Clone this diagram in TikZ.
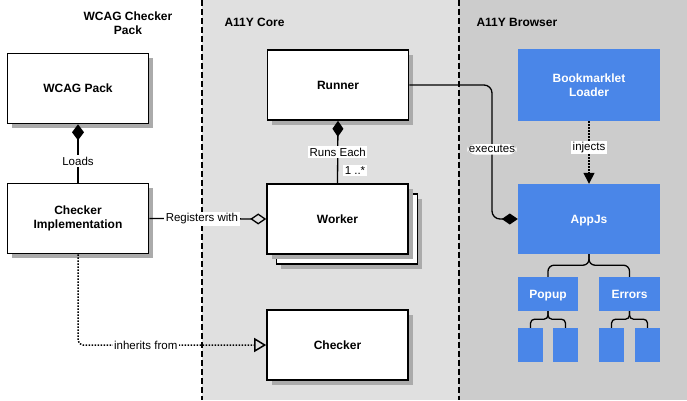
\documentclass[tikz,border=0pt]{standalone}
\usepackage{fontspec}
\setmainfont{Liberation Sans}
\usetikzlibrary{arrows.meta,calc}
\definecolor{coregray}{HTML}{E0E0E0}
\definecolor{browsergray}{HTML}{CCCCCC}
\definecolor{shadowgray}{HTML}{ABABAB}
\definecolor{appblue}{HTML}{4A86E8}
\begin{document}
\begin{tikzpicture}[x=1pt,y=-1pt,
  umlbox/.style={draw=black, line width=1.6pt, fill=white, minimum width=141pt, minimum height=70pt,
    inner sep=0pt, align=center, font=\bfseries\fontsize{12}{14}\selectfont,
    preaction={fill=shadowgray, draw=none, transform canvas={shift={(4.5pt,-4.5pt)}}}},
  bluebox/.style={fill=appblue, text=white, inner sep=0pt, align=center,
    font=\bfseries\fontsize{12}{14}\selectfont},
  onel/.style={text height=8.6pt, text depth=0pt},
  lbl/.style={fill=white, inner sep=1.5pt, font=\fontsize{11.5}{13}\selectfont},
  title/.style={font=\bfseries\fontsize{12}{14}\selectfont, align=center},
  conn/.style={line width=1.3pt},
  dotconn/.style={line width=1.5pt, dash pattern=on 1.5pt off 1.5pt},
  sep/.style={line width=2pt, dash pattern=on 6pt off 3pt},
  brace/.style={line width=1.3pt}
]
\useasboundingbox (0,0) rectangle (687,400);
\fill[white] (0,0) rectangle (202,400);
\fill[coregray] (202,0) rectangle (459,400);
\fill[browsergray] (459,0) rectangle (687,400);
\draw[sep] (202,0) -- (202,400);
\draw[sep] (459,0) -- (459,400);

% titles
\node[title] (t1) at (128,23) {WCAG Checker\\Pack};
\node[title, anchor=west] (t2) at (221,22) {A11Y Core};
\node[title, anchor=west] (t3) at (473,22) {A11Y Browser};

% left
\node[umlbox] (wcag) at (78,88.5) {WCAG Pack};
\node[umlbox] (impl) at (78,218.5) {Checker\\Implementation};

% core
\node[umlbox] (runner) at (338,85) {Runner};
\node[umlbox] (workerback) at (347,229) {};
\node[umlbox] (worker) at (337.5,219) {Worker};
\node[umlbox] (checker) at (337.5,345) {Checker};

% browser
\node[bluebox, minimum width=142pt, minimum height=72pt] (loader) at (589,85) {Bookmarklet\\Loader};
\node[bluebox, onel, minimum width=142pt, minimum height=70pt] (app) at (589,219) {AppJs};
\node[bluebox, onel, minimum width=60pt, minimum height=34pt] (popup) at (548,294) {Popup};
\node[bluebox, onel, minimum width=61pt, minimum height=34pt] (errors) at (629.5,294) {Errors};
\node[bluebox, minimum width=25pt, minimum height=34pt] (s1) at (530.5,345) {};
\node[bluebox, minimum width=25pt, minimum height=34pt] (s2) at (565.5,345) {};
\node[bluebox, minimum width=25pt, minimum height=34pt] (s3) at (611.5,345) {};
\node[bluebox, minimum width=25pt, minimum height=34pt] (s4) at (647.5,345) {};

% connectors
\draw[conn, {Diamond[length=16pt,width=12pt]}-] (wcag.south) -- node[lbl, pos=0.63] {Loads} (impl.north);
\draw[conn, -{Diamond[open,length=16pt,width=11pt]}] (impl.east) -- node[lbl, pos=0.45] {Registers with} (worker.west);
\draw[conn, {Diamond[length=16pt,width=11pt]}-] (runner.south) -- node[lbl, pos=0.5] {Runs Each}
   node[lbl, pos=0.8, anchor=west, xshift=5pt] {1 ..*} (worker.north);
\coordinate (exbend) at (492,85);
\draw[conn, rounded corners=8pt, -{Diamond[length=16pt,width=11pt]}] (runner.east) -- (exbend) |- node[lbl, pos=0.24] {executes} (app.west);
\draw[dotconn, -{Triangle[length=11pt,width=11pt]}] (loader.south) -- node[lbl, pos=0.42] {injects} (app.north);
\draw[dotconn, rounded corners=5pt, -{Triangle[open,length=12pt,width=14pt]}] (impl.south) |- node[lbl, pos=0.68] {inherits from} (checker.west);

% braces
\draw[brace, rounded corners=6pt] (app.south) -- ++(0,11) -| (popup.north);
\draw[brace, rounded corners=6pt] (app.south) -- ++(0,11) -| (errors.north);
\draw[brace, rounded corners=4pt] (popup.south) -- ++(0,8) -| (s1.north);
\draw[brace, rounded corners=4pt] (popup.south) -- ++(0,8) -| (s2.north);
\draw[brace, rounded corners=4pt] (errors.south) -- ++(0,8) -| (s3.north);
\draw[brace, rounded corners=4pt] (errors.south) -- ++(0,8) -| (s4.north);
\end{tikzpicture}
\end{document}
